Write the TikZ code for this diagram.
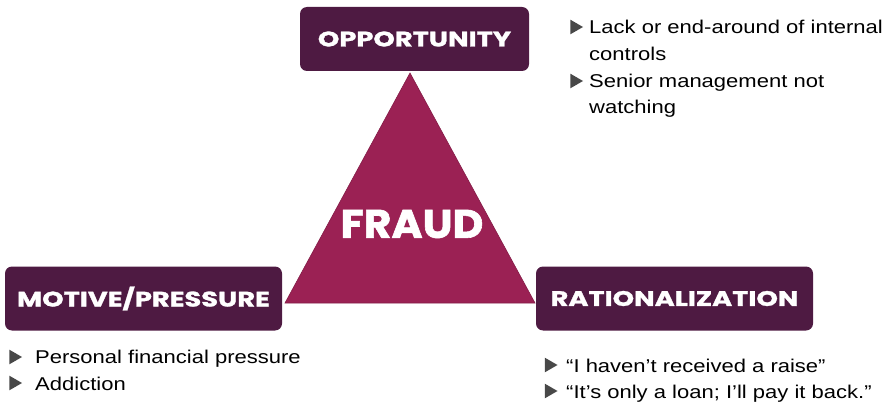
\documentclass[tikz,border=0pt]{standalone}
\usepackage{fontspec}
\setmainfont{Liberation Sans}[FakeStretch=1.19]
\newfontfamily\headfont{Poppins}[FakeStretch=1.3,FakeBold=1.4]
\newfontfamily\fraudfont{Poppins}[FakeStretch=1.06,FakeBold=1.5]
\usetikzlibrary{positioning,shapes.geometric}

\definecolor{plum}{RGB}{78,26,66}
\definecolor{fraudred}{RGB}{155,33,84}
\definecolor{bulgray}{RGB}{72,72,72}

\tikzset{
  corner/.style={fill=plum,rounded corners=7pt,text=white,inner sep=0pt,
    minimum height=64pt,font=\headfont\bfseries\fontsize{21}{21}\selectfont},
  item/.style={anchor=base west,inner sep=0pt,font=\fontsize{18.5}{22}\selectfont},
  bul/.style={regular polygon,regular polygon sides=3,shape border rotate=-90,
    fill=bulgray,inner sep=0pt,minimum size=17pt}
}

\begin{document}
\begin{tikzpicture}[x=1pt,y=-1pt]
\useasboundingbox (0,0) rectangle (886,406);
% triangle
\coordinate (apex) at (410,73);
\coordinate (left) at (285,303);
\coordinate (right) at (535,303);
\filldraw[fill=fraudred,draw=fraudred!85!black,line width=0.6pt] (apex) -- (left) -- (right) -- cycle;
\node[text=white,font=\fraudfont\bfseries\fontsize{40}{40}\selectfont] (fraud) at (412,224) {FRAUD};
% corner boxes
\node[corner,minimum width=229pt] (opp) at (414.5,39) {OPPORTUNITY};
\node[corner,minimum width=277pt] (mot) at (143.5,298.5) {MOTIVE/PRESSURE};
\node[corner,minimum width=277pt] (rat) at (674.5,298.5) {RATIONALIZATION};
% opportunity items
\node[bul] (ob1) at (574.5,27) {};
\node[item] (o1) at (589,34) {Lack or end-around of internal};
\node[item] (o1b) at (589,61) {controls};
\node[bul] (ob2) at (574.5,81) {};
\node[item] (o2) at (589,88) {Senior management not};
\node[item] (o2b) at (589,114) {watching};
% motive items
\node[bul] (mb1) at (13.5,357) {};
\node[item] (m1) at (35,363) {Personal financial pressure};
\node[bul] (mb2) at (13.5,383) {};
\node[item] (m2) at (35,390) {Addiction};
% rationalization items
\node[bul] (rb1) at (549,365) {};
\node[item] (r1) at (566,372) {“I haven’t received a raise”};
\node[bul] (rb2) at (549,391) {};
\node[item] (r2) at (566,398) {“It’s only a loan; I’ll pay it back.”};
\end{tikzpicture}
\end{document}
